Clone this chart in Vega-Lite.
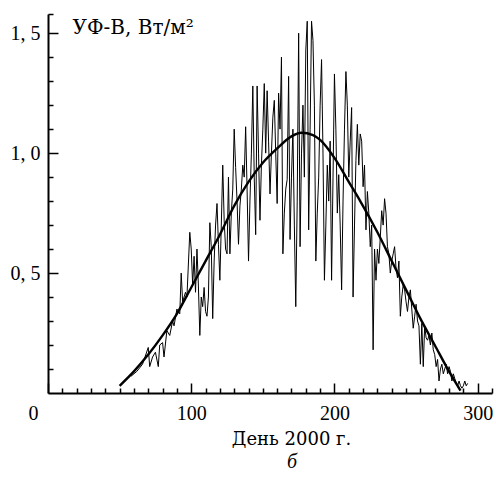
{
  "$schema": "https://vega.github.io/schema/vega-lite/v6.json",
  "width": 444,
  "height": 379,
  "autosize": "none",
  "padding": {"left": 48, "top": 14, "right": 4, "bottom": 87},
  "background": "white",
  "config": {"view": {"stroke": null}, "font": "Liberation Serif"},
  "title": {"text": "б", "orient": "bottom", "fontStyle": "italic", "fontWeight": "normal", "font": "Liberation Serif", "fontSize": 20, "anchor": "middle", "dx": 22, "offset": 4, "color": "black"},
  "datasets": {
    "daily": [
      {"day": 58, "v": 0.07}, {"day": 62, "v": 0.09}, {"day": 66, "v": 0.12}, {"day": 70, "v": 0.19}, {"day": 71, "v": 0.11},
      {"day": 73, "v": 0.15}, {"day": 75, "v": 0.17}, {"day": 77, "v": 0.11}, {"day": 78, "v": 0.20}, {"day": 80, "v": 0.21},
      {"day": 81, "v": 0.15}, {"day": 83, "v": 0.26}, {"day": 85, "v": 0.24}, {"day": 87, "v": 0.30}, {"day": 88, "v": 0.28},
      {"day": 90, "v": 0.35}, {"day": 92, "v": 0.33}, {"day": 93, "v": 0.50}, {"day": 94, "v": 0.38}, {"day": 96, "v": 0.42},
      {"day": 97, "v": 0.40}, {"day": 99, "v": 0.67}, {"day": 100, "v": 0.60}, {"day": 101, "v": 0.45}, {"day": 102, "v": 0.57},
      {"day": 103, "v": 0.42}, {"day": 104, "v": 0.60}, {"day": 105, "v": 0.45}, {"day": 106, "v": 0.24}, {"day": 107, "v": 0.40},
      {"day": 108, "v": 0.36}, {"day": 109, "v": 0.44}, {"day": 110, "v": 0.34}, {"day": 111, "v": 0.32}, {"day": 112, "v": 0.40},
      {"day": 113, "v": 0.71}, {"day": 114, "v": 0.61}, {"day": 115, "v": 0.31}, {"day": 116, "v": 0.55}, {"day": 117, "v": 0.70},
      {"day": 118, "v": 0.79}, {"day": 119, "v": 0.62}, {"day": 120, "v": 0.47}, {"day": 121, "v": 0.70}, {"day": 122, "v": 0.95},
      {"day": 123, "v": 0.72}, {"day": 124, "v": 0.60}, {"day": 125, "v": 0.58}, {"day": 126, "v": 0.90}, {"day": 127, "v": 0.58},
      {"day": 128, "v": 0.75}, {"day": 129, "v": 0.85}, {"day": 130, "v": 1.10}, {"day": 131, "v": 0.94}, {"day": 132, "v": 0.80},
      {"day": 133, "v": 0.62}, {"day": 134, "v": 0.78}, {"day": 135, "v": 0.85}, {"day": 136, "v": 0.95}, {"day": 137, "v": 0.90},
      {"day": 138, "v": 1.11}, {"day": 139, "v": 0.85}, {"day": 140, "v": 0.55}, {"day": 141, "v": 0.80}, {"day": 142, "v": 1.00},
      {"day": 143, "v": 1.28}, {"day": 144, "v": 0.90}, {"day": 145, "v": 0.66}, {"day": 146, "v": 1.28}, {"day": 147, "v": 1.00},
      {"day": 148, "v": 0.72}, {"day": 149, "v": 0.95}, {"day": 150, "v": 1.10}, {"day": 151, "v": 1.29}, {"day": 152, "v": 1.00},
      {"day": 153, "v": 1.26}, {"day": 154, "v": 1.05}, {"day": 155, "v": 0.83}, {"day": 156, "v": 1.00}, {"day": 157, "v": 1.15},
      {"day": 158, "v": 1.22}, {"day": 159, "v": 1.00}, {"day": 160, "v": 0.79}, {"day": 161, "v": 1.25}, {"day": 162, "v": 1.10},
      {"day": 163, "v": 1.40}, {"day": 164, "v": 0.58}, {"day": 165, "v": 0.75}, {"day": 166, "v": 0.85}, {"day": 167, "v": 0.89},
      {"day": 168, "v": 1.32}, {"day": 169, "v": 0.64}, {"day": 170, "v": 0.90}, {"day": 171, "v": 1.10}, {"day": 172, "v": 0.70},
      {"day": 173, "v": 0.36}, {"day": 174, "v": 0.80}, {"day": 175, "v": 1.50}, {"day": 176, "v": 0.61}, {"day": 177, "v": 1.00},
      {"day": 178, "v": 1.20}, {"day": 179, "v": 0.90}, {"day": 180, "v": 1.43}, {"day": 181, "v": 1.55}, {"day": 182, "v": 0.68},
      {"day": 183, "v": 1.10}, {"day": 184, "v": 1.55}, {"day": 185, "v": 1.47}, {"day": 186, "v": 1.20}, {"day": 187, "v": 0.55},
      {"day": 188, "v": 0.75}, {"day": 189, "v": 0.90}, {"day": 190, "v": 1.20}, {"day": 191, "v": 1.39}, {"day": 192, "v": 1.00},
      {"day": 193, "v": 0.47}, {"day": 194, "v": 0.70}, {"day": 195, "v": 0.95}, {"day": 196, "v": 0.80}, {"day": 197, "v": 1.05},
      {"day": 198, "v": 0.47}, {"day": 199, "v": 0.90}, {"day": 200, "v": 1.33}, {"day": 201, "v": 1.10}, {"day": 202, "v": 0.75},
      {"day": 203, "v": 0.91}, {"day": 204, "v": 0.70}, {"day": 205, "v": 0.43}, {"day": 206, "v": 0.80}, {"day": 207, "v": 1.10},
      {"day": 208, "v": 1.34}, {"day": 209, "v": 1.20}, {"day": 210, "v": 0.90}, {"day": 211, "v": 1.05}, {"day": 212, "v": 1.19},
      {"day": 213, "v": 0.40}, {"day": 214, "v": 0.70}, {"day": 215, "v": 0.97}, {"day": 216, "v": 1.12}, {"day": 217, "v": 0.95},
      {"day": 218, "v": 1.08}, {"day": 219, "v": 1.05}, {"day": 220, "v": 0.86}, {"day": 221, "v": 0.95}, {"day": 222, "v": 0.68},
      {"day": 223, "v": 0.84}, {"day": 224, "v": 0.75}, {"day": 225, "v": 0.61}, {"day": 226, "v": 0.70}, {"day": 227, "v": 0.18},
      {"day": 228, "v": 0.60}, {"day": 229, "v": 0.47}, {"day": 230, "v": 0.60}, {"day": 231, "v": 0.54}, {"day": 232, "v": 0.65},
      {"day": 233, "v": 0.76}, {"day": 234, "v": 0.70}, {"day": 235, "v": 0.81}, {"day": 236, "v": 0.75}, {"day": 237, "v": 0.61},
      {"day": 238, "v": 0.58}, {"day": 239, "v": 0.50}, {"day": 240, "v": 0.55}, {"day": 241, "v": 0.58}, {"day": 242, "v": 0.61},
      {"day": 243, "v": 0.52}, {"day": 244, "v": 0.48}, {"day": 245, "v": 0.55}, {"day": 246, "v": 0.32}, {"day": 247, "v": 0.40},
      {"day": 248, "v": 0.45}, {"day": 249, "v": 0.43}, {"day": 250, "v": 0.38}, {"day": 251, "v": 0.34}, {"day": 252, "v": 0.40},
      {"day": 253, "v": 0.43}, {"day": 254, "v": 0.35}, {"day": 255, "v": 0.27}, {"day": 256, "v": 0.32}, {"day": 257, "v": 0.37},
      {"day": 258, "v": 0.30}, {"day": 259, "v": 0.28}, {"day": 260, "v": 0.12}, {"day": 261, "v": 0.29}, {"day": 262, "v": 0.11},
      {"day": 263, "v": 0.28}, {"day": 264, "v": 0.23}, {"day": 265, "v": 0.22}, {"day": 266, "v": 0.24}, {"day": 267, "v": 0.20},
      {"day": 268, "v": 0.25}, {"day": 269, "v": 0.18}, {"day": 270, "v": 0.16}, {"day": 271, "v": 0.11}, {"day": 272, "v": 0.14},
      {"day": 273, "v": 0.05}, {"day": 274, "v": 0.10}, {"day": 275, "v": 0.12}, {"day": 276, "v": 0.08}, {"day": 277, "v": 0.10},
      {"day": 278, "v": 0.12}, {"day": 279, "v": 0.08}, {"day": 280, "v": 0.11}, {"day": 281, "v": 0.09}, {"day": 282, "v": 0.05},
      {"day": 283, "v": 0.08}, {"day": 284, "v": 0.06}, {"day": 285, "v": 0.04}, {"day": 286, "v": 0.03}, {"day": 287, "v": 0.05},
      {"day": 288, "v": 0.03}, {"day": 289, "v": 0.02}, {"day": 290, "v": 0.03}, {"day": 291, "v": 0.05}, {"day": 292, "v": 0.03},
      {"day": 293, "v": 0.04}
    ],
    "fit": [
      {"day": 50, "v": 0.03}, {"day": 60, "v": 0.09}, {"day": 70, "v": 0.16}, {"day": 80, "v": 0.24}, {"day": 90, "v": 0.33},
      {"day": 100, "v": 0.44}, {"day": 110, "v": 0.55}, {"day": 120, "v": 0.66}, {"day": 130, "v": 0.78}, {"day": 140, "v": 0.88},
      {"day": 150, "v": 0.96}, {"day": 160, "v": 1.02}, {"day": 170, "v": 1.07}, {"day": 177, "v": 1.085}, {"day": 185, "v": 1.075},
      {"day": 190, "v": 1.055}, {"day": 200, "v": 0.98}, {"day": 210, "v": 0.88}, {"day": 218, "v": 0.80}, {"day": 230, "v": 0.67},
      {"day": 240, "v": 0.55}, {"day": 250, "v": 0.43}, {"day": 260, "v": 0.31}, {"day": 270, "v": 0.20}, {"day": 280, "v": 0.09},
      {"day": 288, "v": 0.01}
    ]
  },
  "resolve": {"axis": {"x": "independent", "y": "independent"}},
  "layer": [
    {
      "data": {"name": "daily"},
      "mark": {"type": "line", "color": "black", "strokeWidth": 1, "clip": true},
      "encoding": {
        "x": {
          "field": "day", "type": "quantitative",
          "scale": {"domain": [0, 310], "nice": false, "zero": false},
          "axis": {
            "orient": "bottom", "title": null, "labels": false, "zindex": 2,
            "values": [10, 20, 30, 40, 50, 60, 70, 80, 90, 110, 120, 130, 140, 150, 160, 170, 180, 190, 210, 220, 230, 240, 250, 260, 270, 280, 290, 310],
            "tickSize": -5, "tickColor": "black", "tickWidth": 1.5, "tickOpacity": 1,
            "domainColor": "black", "domainWidth": 2, "grid": false
          }
        },
        "y": {
          "field": "v", "type": "quantitative",
          "scale": {"domain": [0, 1.58], "nice": false},
          "axis": {
            "orient": "left", "title": null, "labels": false, "zindex": 2,
            "values": [0.1, 0.2, 0.3, 0.4, 0.6, 0.7, 0.8, 0.9, 1.1, 1.2, 1.3, 1.4, 1.58],
            "tickSize": -5, "tickColor": "black", "tickWidth": 1.5, "tickOpacity": 1,
            "domainColor": "black", "domainWidth": 2, "grid": false
          }
        }
      }
    },
    {
      "data": {"name": "fit"},
      "mark": {"type": "line", "color": "black", "strokeWidth": 2.4, "interpolate": "monotone"},
      "encoding": {
        "x": {
          "field": "day", "type": "quantitative",
          "scale": {"domain": [0, 310], "nice": false, "zero": false},
          "axis": {
            "orient": "bottom", "zindex": 2,
            "title": "День 2000 г.",
            "titleFont": "DejaVu Serif", "titleFontSize": 18, "titleFontWeight": "normal", "titleColor": "black",
            "titleX": 243, "titleY": 37, "titleBaseline": "top", "titleAlign": "center",
            "values": [0, 100, 200, 300],
            "labelFont": "Liberation Serif", "labelFontSize": 20, "labelColor": "black",
            "labelFlush": false, "labelOverlap": false,
            "labelAlign": {"condition": {"test": "datum.value == 0", "value": "right"}, "value": "center"},
            "labelOffset": {"condition": {"test": "datum.value == 0", "value": -10}, "value": 0},
            "labelPadding": 20,
            "tickSize": -10, "tickColor": "black", "tickWidth": 1.5, "tickOpacity": 1,
            "domain": false, "grid": false
          }
        },
        "y": {
          "field": "v", "type": "quantitative",
          "scale": {"domain": [0, 1.58], "nice": false},
          "axis": {
            "orient": "left", "zindex": 2,
            "title": "УФ-В, Вт/м²",
            "titleFont": "DejaVu Serif", "titleFontSize": 20, "titleFontWeight": "normal", "titleColor": "black",
            "titleAngle": 0, "titleX": 24, "titleY": 19, "titleAlign": "left", "titleBaseline": "alphabetic",
            "values": [0.5, 1, 1.5],
            "labelExpr": "replace(format(datum.value, '.1f'), '.', ', ')",
            "labelFont": "Liberation Serif", "labelFontSize": 20, "labelColor": "black",
            "labelFlush": false, "labelOverlap": false,
            "labelPadding": 18,
            "tickSize": -10, "tickColor": "black", "tickWidth": 1.5, "tickOpacity": 1,
            "domain": false, "grid": false
          }
        }
      }
    }
  ]
}
